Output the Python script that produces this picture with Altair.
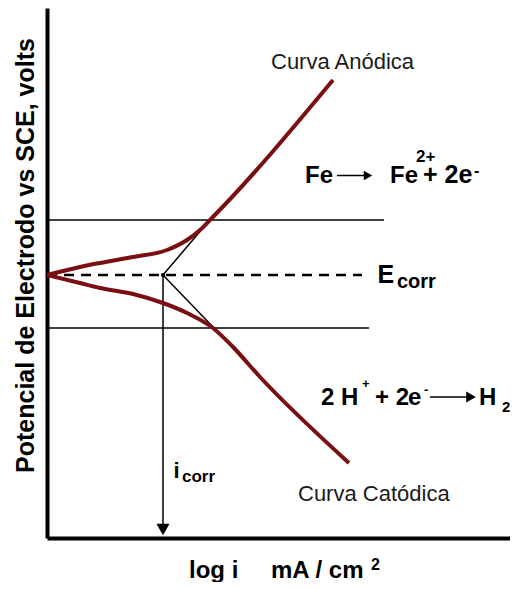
import altair as alt
import pandas as pd

# ---- data (arbitrary units: x = log i, y = potential E) ----
anodic_logi = [0.0, 0.66, 1.06, 1.72, 2.40, 2.80, 3.06, 3.26, 5.72]
anodic_E = [5.26, 5.42, 5.50, 5.62, 5.76, 5.96, 6.16, 6.36, 9.16]
cathodic_logi = [0.0, 0.66, 1.06, 1.72, 2.32, 2.80, 3.32, 3.72, 4.26, 6.04]
cathodic_E = [5.26, 5.10, 5.00, 4.88, 4.70, 4.50, 4.20, 3.82, 3.22, 1.50]

E_corr = 5.26
i_corr = 2.32
E_upper, upper_end = 6.36, 6.74
E_lower, lower_end = 4.20, 6.44
ecorr_end = 6.30
tafel_end_x = [3.12, 3.32]
tafel_end_y = [6.20, 4.22]

X_DOMAIN = [0, 9.26]
Y_DOMAIN = [0, 10.6]

xs = alt.Scale(domain=X_DOMAIN, nice=False, zero=False)
ys = alt.Scale(domain=Y_DOMAIN, nice=False, zero=False)

curves = pd.DataFrame(
    {
        "logi": anodic_logi + cathodic_logi,
        "E": anodic_E + cathodic_E,
        "curve": ["anodica"] * len(anodic_logi) + ["catodica"] * len(cathodic_logi),
    }
)

hlines = pd.DataFrame({"x": [0, 0], "x2": [upper_end, lower_end], "y": [E_upper, E_lower]})
dashed = pd.DataFrame({"x": [0], "x2": [ecorr_end], "y": [E_corr]})
tafel = pd.DataFrame(
    {"x": [i_corr, i_corr], "y": [E_corr, E_corr], "x2": tafel_end_x, "y2": tafel_end_y}
)
vert = pd.DataFrame({"x": [i_corr], "y": [E_corr], "y2": [0.12]})
corr_pt = pd.DataFrame({"x": [i_corr], "y": [E_corr]})
arrow_down = pd.DataFrame({"x": [i_corr], "y": [0.17]})

# reaction arrows
r_arrows = pd.DataFrame({"x": [5.80, 7.66], "x2": [6.36, 8.40], "y": [7.25, 2.82]})
r_heads = pd.DataFrame({"x": [6.42, 8.48], "y": [7.25, 2.82], "s": [95, 125]})

# text labels
normal_text = pd.DataFrame(
    {
        "x": [4.48, 5.02],
        "y": [9.38, 0.74],
        "t": ["Curva Anódica", "Curva Catódica"],
    }
)
bold_text = pd.DataFrame(
    {
        "x": [5.16, 6.86, 7.38, 7.52, 8.54,
              5.48, 6.30, 6.56, 7.22, 7.54, 8.64, 9.10,
              6.61, 7.00,
              2.53, 2.70,
              2.84, 4.48, 6.48],
        "y": [7.10, 7.10, 7.53, 7.10, 7.24,
              2.66, 3.00, 2.66, 2.66, 2.88, 2.66, 2.52,
              5.10, 5.00,
              1.20, 1.12,
              -0.80, -0.80, -0.64],
        "t": ["Fe", "Fe", "2+", "+ 2e", "-",
              "2 H", "+", "+ 2", "e", "-", "H", "2",
              "E", "corr",
              "i", "corr",
              "log i", "mA / cm", "2"],
        "fs": [24, 24, 17, 25, 16,
               24, 13, 24, 24, 13, 24, 15,
               25, 20,
               22, 17,
               24, 24, 16],
    }
)

FONT = "Liberation Sans"

base_x = alt.X(
    "x:Q",
    scale=xs,
    axis=alt.Axis(
        title=None, labels=False, ticks=False, grid=False,
        domain=True, domainColor="black", domainWidth=4,
    ),
)
base_y = alt.Y(
    "y:Q",
    scale=ys,
    axis=alt.Axis(
        title="Potencial de Electrodo vs SCE, volts",
        titleFont=FONT, titleFontSize=25, titleFontWeight="bold", titleColor="black",
        titleAngle=270, titleAlign="center", titleBaseline="alphabetic",
        titleX=-14, titleY=247,
        labels=False, ticks=False, grid=False,
        domain=True, domainColor="black", domainWidth=4,
    ),
)

X = alt.X("x:Q", scale=xs)
Y = alt.Y("y:Q", scale=ys)

hl = alt.Chart(hlines).mark_rule(color="black", strokeWidth=1.5).encode(
    x=base_x, x2="x2:Q", y=base_y
)
dl = alt.Chart(dashed).mark_rule(color="black", strokeWidth=2.5, strokeDash=[10, 7]).encode(
    x=X, x2="x2:Q", y=Y
)
tl = alt.Chart(tafel).mark_rule(color="black", strokeWidth=1.5).encode(
    x=X, x2="x2:Q", y=Y, y2="y2:Q"
)
vl = alt.Chart(vert).mark_rule(color="black", strokeWidth=1.5).encode(x=X, y=Y, y2="y2:Q")
ah = alt.Chart(arrow_down).mark_point(
    shape="triangle-down", filled=True, color="black", size=170, opacity=1
).encode(x=X, y=Y)

cv = alt.Chart(curves).mark_line(
    color="#7a0f12", strokeWidth=4, interpolate="monotone"
).encode(
    x=alt.X("logi:Q", scale=xs),
    y=alt.Y("E:Q", scale=ys),
    detail="curve:N",
)
cp = alt.Chart(corr_pt).mark_point(filled=True, color="black", size=18, opacity=1).encode(x=X, y=Y)

ra = alt.Chart(r_arrows).mark_rule(color="black", strokeWidth=1.5).encode(x=X, x2="x2:Q", y=Y)
rh = alt.Chart(r_heads).mark_point(
    shape="triangle-right", filled=True, color="black", opacity=1
).encode(x=X, y=Y, size=alt.Size("s:Q", scale=None))

nt = alt.Chart(normal_text).mark_text(
    font=FONT, fontSize=22, color="#1a1a1a", align="left", baseline="alphabetic"
).encode(x=X, y=Y, text="t:N")

bt = alt.Chart(bold_text).mark_text(
    font=FONT, fontWeight="bold", color="black", align="left", baseline="alphabetic"
).encode(x=X, y=Y, text="t:N", size=alt.Size("fs:Q", scale=None))

chart = (
    alt.layer(hl, dl, tl, vl, ah, cv, cp, ra, rh, nt, bt)
    .properties(
        width=463,
        height=530,
        autosize=alt.AutoSizeParams(type="none"),
        padding={"left": 39, "top": 0, "right": 0, "bottom": 44},
        background="white",
    )
    .configure_view(strokeWidth=0)
)

chart.save("out.html", embed_options={"renderer": "svg", "actions": False})
